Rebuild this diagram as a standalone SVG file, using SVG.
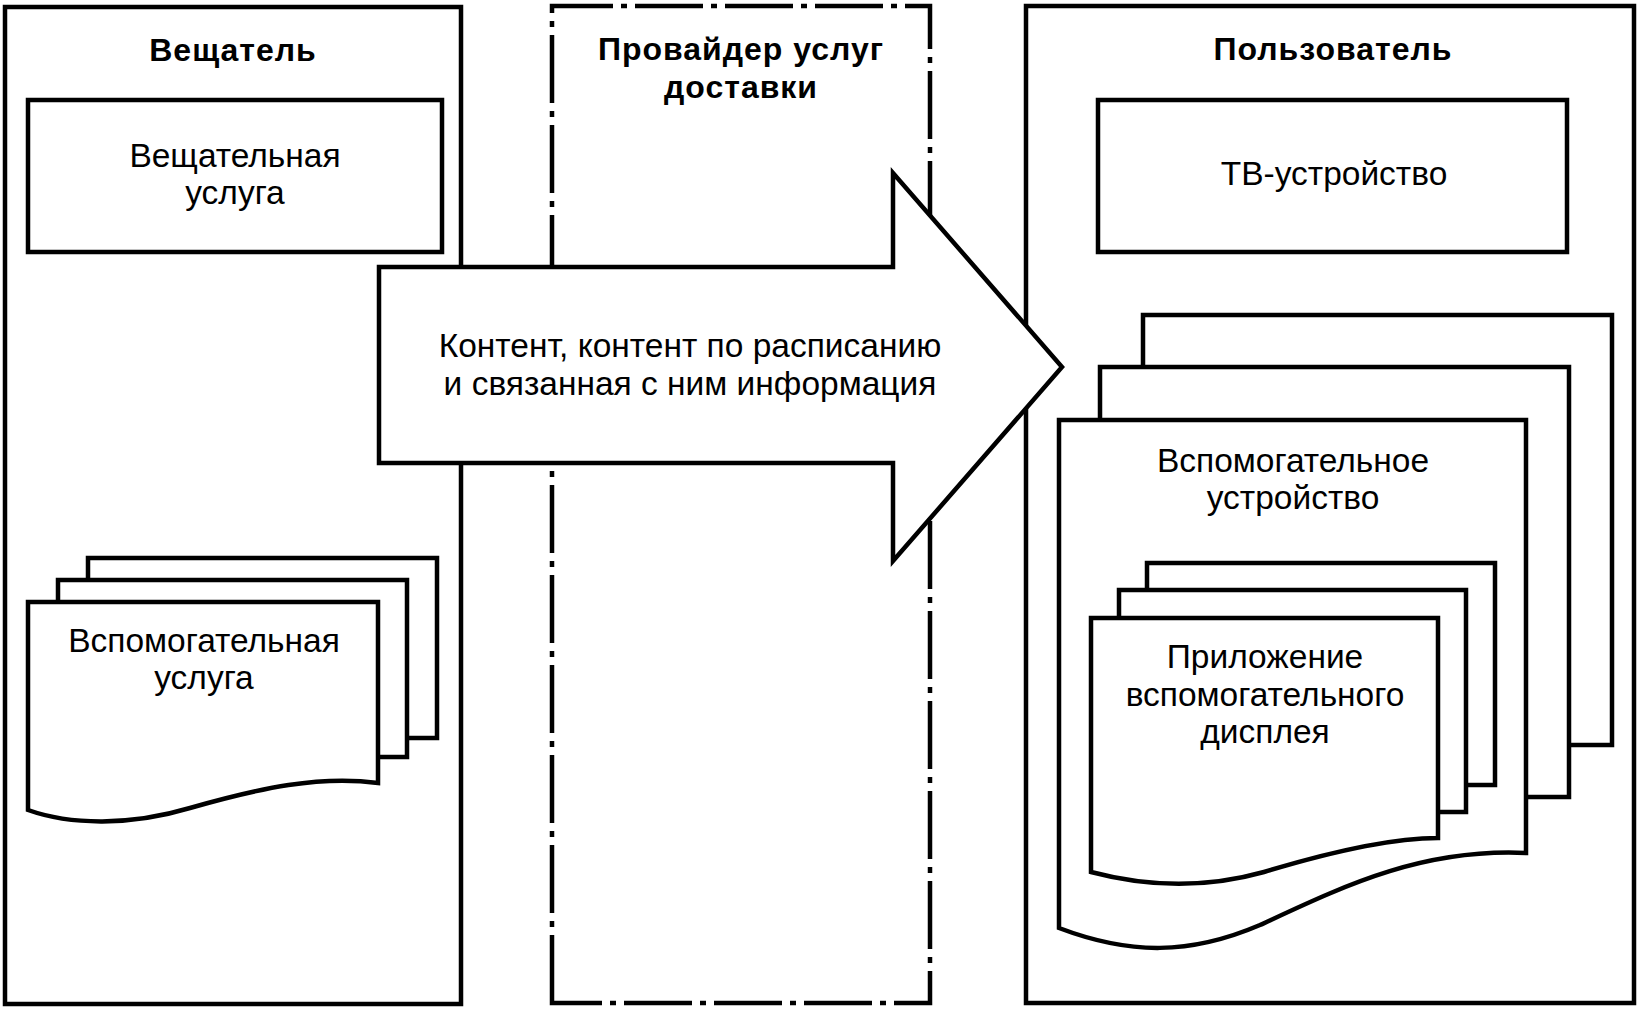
<svg xmlns="http://www.w3.org/2000/svg" width="1643" height="1012" viewBox="0 0 1643 1012">
<style>
  .ln { fill: #fff; stroke: #000; stroke-width: 4.5; stroke-linejoin: miter; }
  .dd { fill: none; stroke: #000; stroke-width: 4.5; stroke-dasharray: 68 8 6 8; }
  .t { font-family: "Liberation Sans", Arial, sans-serif; font-size: 33.5px; fill: #000; text-anchor: middle; }
  .b { font-family: "Liberation Sans", Arial, sans-serif; font-size: 32px; font-weight: bold; letter-spacing: 1px; fill: #000; text-anchor: middle; }
</style>
<rect x="0" y="0" width="1643" height="1012" fill="#fff"/>

<g id="broadcaster">
  <rect class="ln" x="5" y="7" width="456" height="997"/>
  <text class="b" x="233" y="61">Вещатель</text>
</g>
<g id="broadcast-service">
  <rect class="ln" x="28" y="100" width="414" height="152"/>
  <text class="t" x="235" y="167">Вещательная</text>
  <text class="t" x="235" y="204">услуга</text>
</g>
<g id="aux-service">
  <rect class="ln" x="88" y="558" width="349" height="180"/>
  <rect class="ln" x="58" y="580" width="349" height="177"/>
  <path class="ln" d="M28,602 H378 V783 C320,775 260,788 190,808 C130,826 70,825 28,810 Z"/>
  <text class="t" x="204" y="652">Вспомогательная</text>
  <text class="t" x="204" y="689">услуга</text>
</g>

<g id="delivery-provider">
  <rect fill="#fff" stroke="none" x="552" y="6" width="378" height="997"/>
  <path class="dd" d="M552,1003 V6 H930 V1003 Z"/>
  <text class="b" x="741" y="60">Провайдер услуг</text>
  <text class="b" x="741" y="98">доставки</text>
</g>

<g id="user">
  <rect class="ln" x="1026" y="6" width="608" height="997"/>
  <text class="b" x="1333" y="60">Пользователь</text>
</g>
<g id="tv-device">
  <rect class="ln" x="1098" y="100" width="469" height="152"/>
  <text class="t" x="1334" y="185">ТВ-устройство</text>
</g>
<g id="aux-device">
  <rect class="ln" x="1143" y="315" width="469" height="430"/>
  <rect class="ln" x="1100" y="367" width="469" height="430"/>
  <path class="ln" d="M1059,420 H1526 V853 C1420,848 1340,888 1260,925 C1190,955 1130,955 1059,928 Z"/>
  <text class="t" x="1293" y="472">Вспомогательное</text>
  <text class="t" x="1293" y="509">устройство</text>
</g>
<g id="aux-display-app">
  <rect class="ln" x="1147" y="563" width="348" height="222"/>
  <rect class="ln" x="1119" y="590" width="347" height="222"/>
  <path class="ln" d="M1091,618 H1438 V838 C1390,838 1330,852 1264,872 C1200,890 1140,885 1091,872 Z"/>
  <text class="t" x="1265" y="668">Приложение</text>
  <text class="t" x="1265" y="706">вспомогательного</text>
  <text class="t" x="1265" y="743">дисплея</text>
</g>

<g id="connectors">
  <path class="ln" d="M379,267 H893 V173 L1062,367 L893,561 V463 H379 Z"/>
  <text class="t" x="690" y="357">Контент, контент по расписанию</text>
  <text class="t" x="690" y="395">и связанная с ним информация</text>
</g>
</svg>
